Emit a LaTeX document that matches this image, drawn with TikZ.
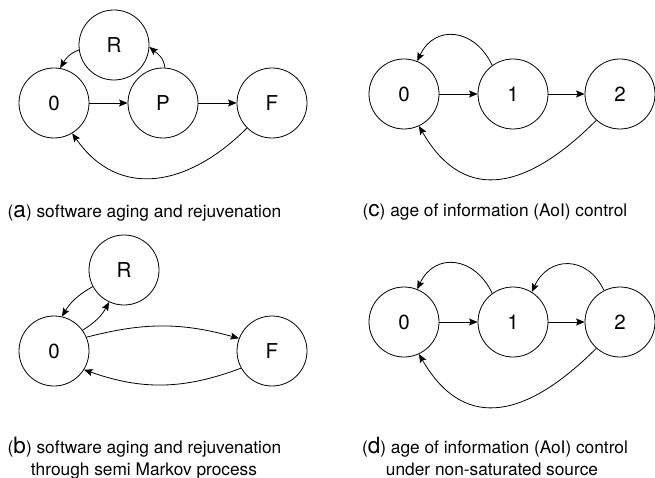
\documentclass[tikz,border=0pt]{standalone}
\usepackage{fontspec}
\setmainfont{TeX Gyre Heros}
\usetikzlibrary{arrows.meta}
\newcommand\sublbl[1]{{\fontsize{22.5}{22.5}\selectfont #1}}
\begin{document}
\begin{tikzpicture}[x=1pt,y=-1pt,
  st/.style={circle,draw,line width=0.8pt,minimum size=70pt,inner sep=0pt,font=\fontsize{20.5}{20.5}\selectfont},
  ar/.style={-{Stealth[length=8.5pt,width=7pt,inset=1.5pt]},line width=0.8pt},
  captext/.style={font=\fontsize{17.3}{22}\selectfont,anchor=base}]
\useasboundingbox (0,0) rectangle (655,478);
% (a)
\node[st] (a0) at (54,103) {0};
\node[st] (aP) at (163,103) {P};
\node[st] (aF) at (272,103) {F};
\node[st] (aR) at (114,45) {R};
\draw[ar] (a0) -- (aP);
\draw[ar] (aP) -- (aF);
\draw[ar] (aR.188) to[out=200,in=60] (a0.80);
\draw[ar] (aP.87) to[out=95,in=-40] (aR.-3);
\draw[ar] (aF.225) to[out=225,in=-55,looseness=1.2] (a0.-59);
\node[captext] (capa) at (144.5,218) {(\sublbl{a}) software aging and rejuvenation};
% (b)
\node[st] (bR) at (124,270) {R};
\node[st] (b0) at (54,351) {0};
\node[st] (bF) at (272,351) {F};
\draw[ar] (bR.208) to[bend right=15] (b0.77);
\draw[ar] (b0.36) to[bend right=15] (bR.245);
\draw[ar] (b0.23) to[bend left=15] (bF.159);
\draw[ar] (bF.209) to[bend left=20] (b0.-32);
\node[captext] (capb1) at (144.5,453) {(\sublbl{b}) software aging and rejuvenation};
\node[captext] (capb2) at (144,475) {through semi Markov process};
% (c)
\node[st] (c0) at (404,94) {0};
\node[st] (c1) at (513,94) {1};
\node[st] (c2) at (620,94) {2};
\draw[ar] (c0) -- (c1);
\draw[ar] (c1) -- (c2);
\draw[ar] (c1.126) to[out=115,in=65,looseness=1.4] (c0.68);
\draw[ar] (c2.228) to[out=225,in=-60,looseness=1.35] (c0.-65);
\node[captext] (capc) at (495,217) {(\sublbl{c}) age of information (AoI) control};
% (d)
\node[st] (d0) at (404,322) {0};
\node[st] (d1) at (513,322) {1};
\node[st] (d2) at (620,322) {2};
\draw[ar] (d0) -- (d1);
\draw[ar] (d1) -- (d2);
\draw[ar] (d1.126) to[out=115,in=65,looseness=1.4] (d0.68);
\draw[ar] (d2.117) to[out=115,in=65,looseness=1.4] (d1.58);
\draw[ar] (d2.228) to[out=225,in=-60,looseness=1.35] (d0.-65);
\node[captext] (capd1) at (495,453) {(\sublbl{d}) age of information (AoI) control};
\node[captext] (capd2) at (492,475) {under non-saturated source};
\end{tikzpicture}
\end{document}
